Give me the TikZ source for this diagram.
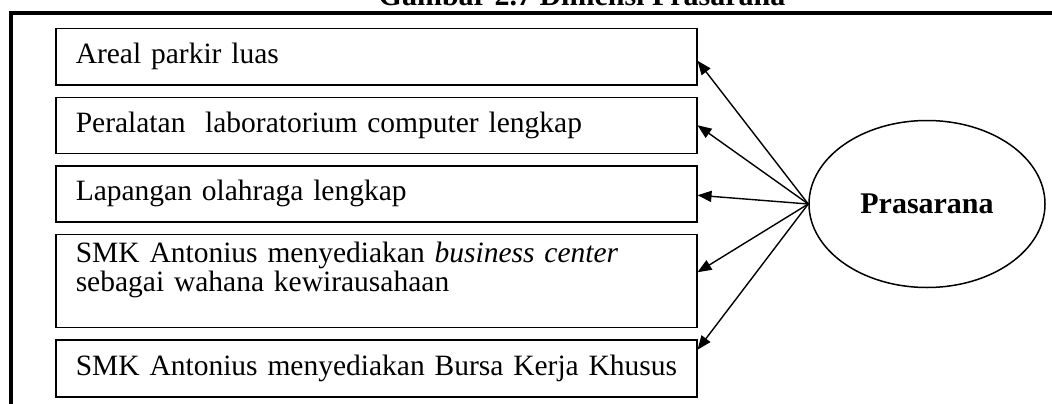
\documentclass[tikz,border=0pt]{standalone}
\usepackage{fontspec}
\setmainfont{Liberation Serif}
\usetikzlibrary{positioning, shapes.geometric, arrows.meta}

\begin{document}
\begin{tikzpicture}[
    x=1pt, y=-1pt,
    node distance=11pt,
    every node/.style={font=\fontsize{29.5pt}{29.5pt}\selectfont},
    kotak/.style={draw, line width=1.5pt, align=left, text width=601pt, inner xsep=20pt, inner ysep=0pt, minimum height=56pt},
    panah/.style={-{Triangle[length=14pt, width=11pt]}, line width=1.4pt}
]
\useasboundingbox (0,0) rectangle (1052,404);

% Judul dan bingkai
\node (judul) [anchor=base, font=\fontsize{30pt}{29pt}\selectfont\bfseries] at (582,6) {Gambar 2.7 Dimensi Prasarana};
\draw[line width=4pt] (11.3,420) -- (11.3,12.7) -- (1070,12.7);

% Nodes
\node (areal) [kotak, anchor=north west] at (55,28) {Areal parkir luas};
\node (peralatan) [kotak, below=of areal] {Peralatan\ \ laboratorium computer lengkap};
\node (lapangan) [kotak, below=of peralatan] {Lapangan olahraga lengkap};
\node (bisnis) [kotak, below=of lapangan, minimum height=93pt] {SMK Antonius menyediakan \textit{business center}\\ sebagai wahana kewirausahaan\rule[-28pt]{0pt}{28pt}};
\node (bursa) [kotak, below=of bisnis, minimum height=57pt] {\mbox{SMK Antonius menyediakan Bursa Kerja Khusus}};
\node (prasarana) [draw, ellipse, line width=1.5pt, minimum width=236pt, minimum height=167pt, inner sep=0pt, font=\fontsize{30pt}{29pt}\selectfont\bfseries] at (927,204) {Prasarana};

% Arrows
\draw[panah] (prasarana.west) -- ([yshift=-4pt]areal.east);
\draw[panah] (prasarana.west) -- (peralatan.east);
\draw[panah] (prasarana.west) -- ([yshift=-1.5pt]lapangan.east);
\draw[panah] (prasarana.west) -- ([yshift=8.5pt]bisnis.east);
\draw[panah] (prasarana.west) -- ([yshift=18.5pt]bursa.east);

\end{tikzpicture}
\end{document}
